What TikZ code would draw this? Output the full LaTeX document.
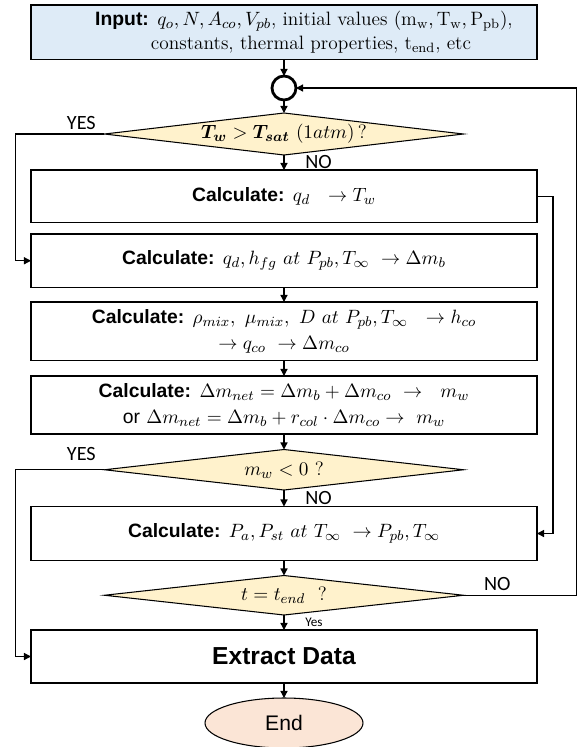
\documentclass[tikz,border=0pt]{standalone}
\usepackage{amsmath,amssymb}
\usepackage{fontspec}
\setsansfont{Liberation Sans}
\newfontfamily\yesnofont{Carlito}
\usepackage{tikz}
\usetikzlibrary{arrows.meta,positioning,shapes.geometric}
\definecolor{inblue}{HTML}{DEEBF7}
\definecolor{decyellow}{HTML}{FFF2CC}
\definecolor{endpink}{HTML}{FBE5D6}
\newcommand{\kw}[1]{\textsf{\bfseries #1}}

\begin{document}
\begin{tikzpicture}[
    font=\fontsize{11}{15}\selectfont,
    node distance=0.3cm,
    box/.style={
        draw,
        line width=0.8pt,
        minimum width=10.12cm,
        align=center,
        inner sep=2pt,
        outer sep=0pt
    },
    decision/.style={
        draw,
        diamond,
        fill=decyellow,
        line width=0.6pt,
        minimum width=7.18cm,
        inner sep=0pt,
        outer sep=0pt
    },
    lbl/.style={font=\yesnofont\fontsize{11.5}{12}\selectfont, inner sep=1pt},
    arr/.style={-{Triangle[length=4pt,width=4pt]}, line width=0.7pt}
]
    \useasboundingbox (-5.68,1.76) rectangle (5.98,-13.18);
    %% Verbindungspunkt
    \node[circle, draw, line width=1.6pt, minimum size=0.48cm, inner sep=0pt, outer sep=0pt] (join) at (0,0) {};
    %% Eingabe
    \node[box, fill=inblue, minimum height=1.09cm, above=0.33cm of join, font=\fontsize{11}{13.5}\selectfont] (inp)
        {\hspace*{0.8cm}\kw{Input:} $q_o, N, A_{co}, V_{pb}$, initial values $\left(\mathrm{m_w}, \mathrm{T_w}, \mathrm{P_{pb}}\right)$,\\
         \hspace*{1.08cm}constants, thermal properties, $\mathrm{t_{end}}$, etc};
    %% Schleife
    \node[decision, minimum height=0.84cm, below=0.26cm of join,
        label={center:{$\boldsymbol{T_w} > \boldsymbol{T_{sat}}\ (1atm)\,$?}}] (hot) {};
    \node[box, minimum height=1.05cm, below=0.3cm of hot] (heat) {\kw{Calculate:} $q_d\ \ \rightarrow T_w$};
    \node[box, minimum height=1.07cm, below=0.23cm of heat] (boil)
        {\kw{Calculate:} $q_d, h_{fg}\ at\ P_{pb}, T_\infty\ \rightarrow \Delta m_b$};
    \node[box, minimum height=1.17cm, below=0.29cm of boil] (cond)
        {\kw{Calculate:} $\rho_{mix},\ \mu_{mix},\ D\ at\ P_{pb}, T_\infty\ \ \rightarrow h_{co}$\\
         $\rightarrow q_{co}\ \rightarrow \Delta m_{co}$};
    \node[box, minimum height=1.16cm, below=0.31cm of cond] (mass)
        {\kw{Calculate:} $\Delta m_{net} = \Delta m_b + \Delta m_{co}\ \rightarrow\ \ m_w$\\
         \textsf{or} $\Delta m_{net} = \Delta m_b + r_{col}\cdot\Delta m_{co} \rightarrow\ m_w$};
    \node[decision, minimum height=0.81cm, below=0.31cm of mass,
        label={center:{$m_w < 0$ ?}}] (dry) {};
    \node[box, minimum height=1.08cm, below=0.33cm of dry] (press)
        {\kw{Calculate:} $P_a, P_{st}\ at\ T_\infty\ \rightarrow P_{pb}, T_\infty$};
    \node[decision, minimum height=0.79cm, below=0.3cm of press,
        label={center:{$t = t_{end}$ \ ?}}] (tend) {};
    %% Ende
    \node[box, minimum height=1.06cm, below=0.3cm of tend, font=\sffamily\bfseries\fontsize{14}{16}\selectfont] (extr) {Extract Data};
    \node[ellipse, draw, fill=endpink, line width=0.6pt, minimum width=3.16cm, minimum height=1.0cm,
        outer sep=0pt, below=0.3cm of extr, font=\sffamily\fontsize{12}{14}\selectfont] (fin) {End};

    %% Pfeile
    \draw[arr] (inp) -- (join);
    \draw[arr] (join) -- (hot);
    \draw[arr] (hot) -- node[lbl, right=0.38cm] {NO} (heat);
    \draw[arr] (hot.west) -- node[lbl, above=1pt, pos=0.26] {YES} ++(-1.78,0) |- (boil.west);
    \draw[arr] (heat.east) -- ++(0.32,0) |- (press.east);
    \draw[arr] (boil) -- (cond);
    \draw[arr] (cond) -- (mass);
    \draw[arr] (mass) -- (dry);
    \draw[arr] (dry.west) -- node[lbl, above=4pt, pos=0.26] {YES} ++(-1.78,0) |- (extr.west);
    \draw[arr] (dry) -- node[lbl, right=0.38cm] {NO} (press);
    \draw[arr] (press) -- (tend);
    \draw[arr] (tend.east) -- node[lbl, above=1.5pt, pos=0.3] {NO} ++(2.26,0) |- (join.east);
    \draw[arr] (tend) -- node[lbl, right=0.38cm, font=\yesnofont\fontsize{7.5}{8}\selectfont] {Yes} (extr);
    \draw[arr] (extr) -- (fin);
\end{tikzpicture}
\end{document}
